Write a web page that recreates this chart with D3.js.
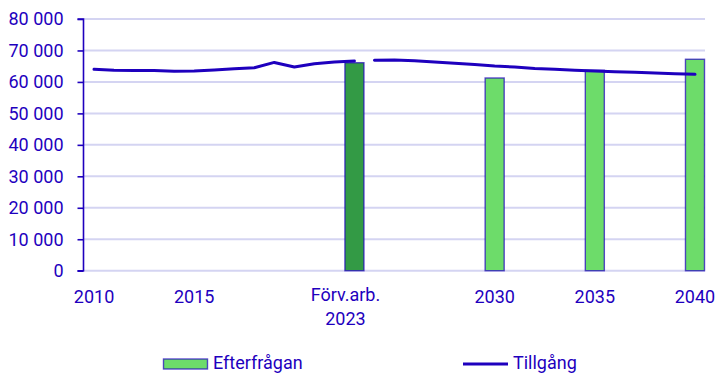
<!DOCTYPE html>
<html>
<head>
<meta charset="utf-8">
<script src="https://cdn.jsdelivr.net/npm/d3@7"></script>
<style>
  html, body { margin: 0; padding: 0; background: #fff; }
  svg { display: block; font-family: Roboto, "Noto Sans", sans-serif; }
</style>
</head>
<body>
<svg id="chart" width="716" height="374"></svg>
<script>
// Supply (Tillgång): historical and projected series
const supplyYearsHist = [2010, 2011, 2012, 2013, 2014, 2015, 2016, 2017, 2018, 2019, 2020, 2021, 2022, 2023];
const supplyHist = [64000, 63700, 63600, 63600, 63400, 63500, 63800, 64200, 64500, 66200, 64750, 65800, 66300, 66650];
const supplyYearsProj = [2024, 2025, 2026, 2027, 2028, 2029, 2030, 2031, 2032, 2033, 2034, 2035, 2036, 2037, 2038, 2039, 2040];
const supplyProj = [66900, 67000, 66750, 66300, 65900, 65500, 65050, 64750, 64300, 64000, 63700, 63500, 63250, 63050, 62850, 62600, 62400];

// Demand (Efterfrågan): base year and projection years
const demandYears = [2023, 2030, 2035, 2040];
const demandValues = [66100, 61250, 63700, 67200];
const demandIsBase = [true, false, false, false];

// Axis ticks
const yTicks = [0, 10000, 20000, 30000, 40000, 50000, 60000, 70000, 80000];
const xTickYears = [2010, 2015, 2023, 2030, 2035, 2040];
const xTickLabels = [["2010"], ["2015"], ["Förv.arb.", "2023"], ["2030"], ["2035"], ["2040"]];

const legendLabels = ["Efterfrågan", "Tillgång"];

const blue = "#1e00be";
const grid = "#d4d4f2";
const greenLight = "#6ddc6a";
const greenDark = "#339a45";
const fontSize = 18;

const svg = d3.select("#chart");
const x = d3.scaleLinear().domain([2009.5, 2040.5]).range([84, 705]);
const y = d3.scaleLinear().domain([0, 80000]).range([270.7, 19]);
const fmt = v => d3.format(",")(v).replace(/,/g, " ");

// Horizontal gridlines
svg.append("g").selectAll("line").data(yTicks).join("line")
  .attr("x1", 84).attr("x2", 705)
  .attr("y1", d => y(d)).attr("y2", d => y(d))
  .attr("stroke", grid).attr("stroke-width", 2);

// Y axis
const yAxis = svg.append("g").attr("transform", "translate(83.5,0)")
  .call(d3.axisLeft(y).tickValues(yTicks).tickFormat(fmt).tickSize(6).tickPadding(14));
yAxis.select(".domain").attr("stroke", blue).attr("stroke-width", 1.6)
  .attr("d", `M-6,${y(80000)}H0V${y(0)}H-6`);
yAxis.selectAll(".tick line").attr("stroke", blue).attr("stroke-width", 1.6);
yAxis.selectAll(".tick text").attr("fill", blue).attr("font-size", fontSize)
  .attr("font-family", "Roboto, 'Noto Sans', sans-serif");

// Bars
const barW = x(2010.5) - x(2009.5);
svg.append("g").selectAll("rect").data(demandYears).join("rect")
  .attr("x", d => x(d) - barW / 2 + 0.5)
  .attr("width", barW - 1)
  .attr("y", (d, i) => y(demandValues[i]))
  .attr("height", (d, i) => y(0) - y(demandValues[i]))
  .attr("fill", (d, i) => demandIsBase[i] ? greenDark : greenLight)
  .attr("stroke", blue).attr("stroke-opacity", 0.7).attr("stroke-width", 1.4);

// Supply lines
const line = d3.line().x(d => x(d[0])).y(d => y(d[1]));
[[supplyYearsHist, supplyHist], [supplyYearsProj, supplyProj]].forEach(([yrs, vals]) => {
  svg.append("path")
    .datum(yrs.map((yr, i) => [yr, vals[i]]))
    .attr("d", line)
    .attr("fill", "none").attr("stroke", blue).attr("stroke-width", 3)
    .attr("stroke-linejoin", "round").attr("stroke-linecap", "round");
});

// X tick labels (two-line label sits slightly higher and left of its tick)
const xl = svg.append("g").selectAll("text").data(xTickYears).join("text")
  .attr("x", d => x(d))
  .attr("y", (d, i) => xTickLabels[i].length > 1 ? 300.7 : 303.3)
  .attr("text-anchor", "middle").attr("fill", blue).attr("font-size", fontSize);
xl.each(function(d, i) {
  const shift = xTickLabels[i].length > 1 ? -9 : 0;
  d3.select(this).selectAll("tspan").data(xTickLabels[i]).join("tspan")
    .attr("x", x(d) + shift).attr("dy", (t, j) => j === 0 ? 0 : 24.3).text(t => t);
});

// Legend
const lg = svg.append("g");
lg.append("rect").attr("x", 163.5).attr("y", 359).attr("width", 44).attr("height", 10)
  .attr("fill", greenLight).attr("stroke", blue).attr("stroke-opacity", 0.7).attr("stroke-width", 1.4);
lg.append("text").attr("x", 213).attr("y", 369.3).attr("fill", blue).attr("font-size", fontSize).text(legendLabels[0]);
lg.append("line").attr("x1", 463).attr("x2", 508).attr("y1", 364).attr("y2", 364)
  .attr("stroke", blue).attr("stroke-width", 3);
lg.append("text").attr("x", 513).attr("y", 369.3).attr("fill", blue).attr("font-size", fontSize).text(legendLabels[1]);
</script>
</body>
</html>
